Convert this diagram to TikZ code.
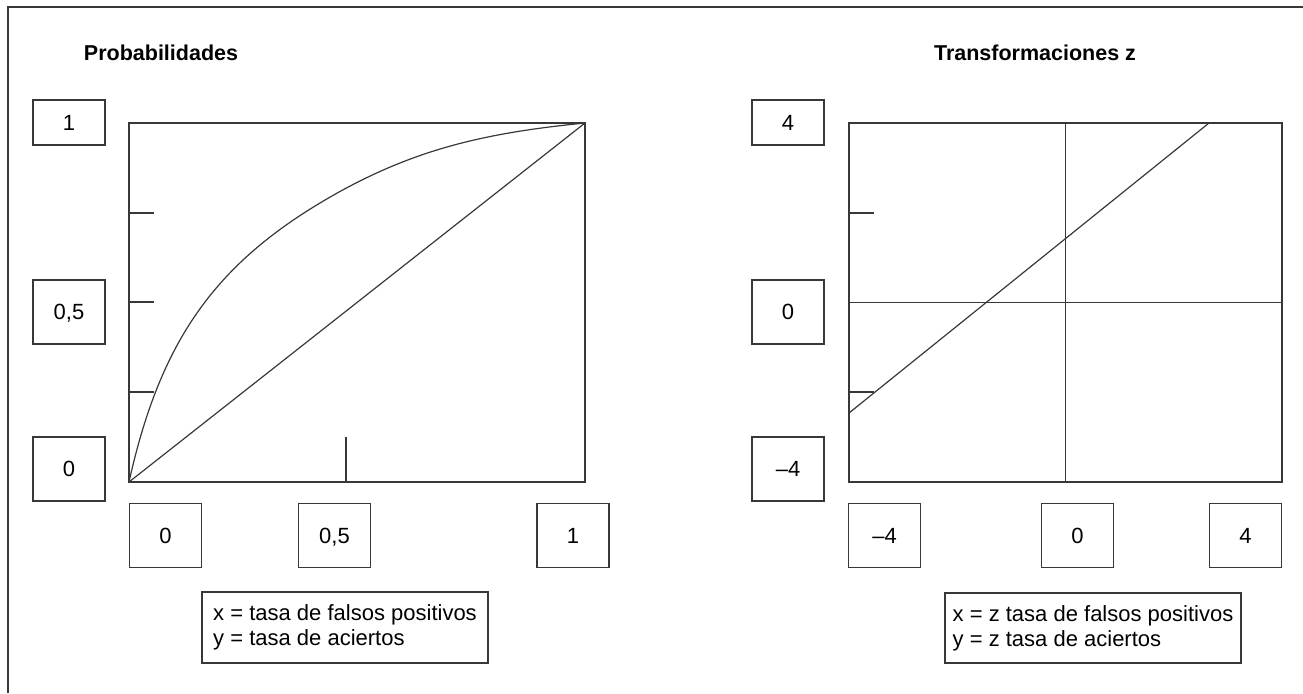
\documentclass[tikz,border=0pt]{standalone}
\usepackage{fontspec}
\setmainfont{Liberation Sans}
\begin{document}
\begin{tikzpicture}[x=1pt,y=-1pt,
  ln/.style={draw=black!78,line width=1.2pt},
  lbl/.style={ln,font=\fontsize{22}{25}\selectfont,inner sep=0pt,minimum width=72pt,text height=15.8pt,text depth=0pt},
  sbox/.style={lbl,minimum height=64pt},
  tbox/.style={lbl,minimum height=45pt},
  legend/.style={ln,font=\fontsize{22}{25}\selectfont,align=left,inner sep=0pt},
  ttl/.style={font=\fontsize{21.5}{25}\selectfont\bfseries,inner sep=0pt}]
\useasboundingbox (0,0) rectangle (1303,693);
% outer partial frame
\coordinate (fL) at (8,693);
\coordinate (fC) at (8,7);
\coordinate (fR) at (1303,7);
\draw[ln] (fL) -- (fC) -- (fR);
% titles
\node[ttl] (t1) at (161,53) {Probabilidades};
\node[ttl] (t2) at (1035,53) {Transformaciones z};
% ---------- left plot ----------
\coordinate (la) at (129,482);
\coordinate (lb) at (585,123);
\coordinate (lm) at (320,203);
\draw[ln] (la) rectangle (lb);
\draw[ln] (la) -- (lb);
\draw[ln] (la) .. controls (159,347) and (210,269) .. (lm)
               .. controls (410,149) and (485,133) .. (lb);
\foreach \yy in {213,302,392} \draw[ln] (129,\yy) -- (154,\yy);
\draw[ln] (346,437) -- (346,482);
\node[tbox] (l1) at (69,122.5) {1};
\node[sbox] (l05) at (69,312) {0,5};
\node[sbox] (l0) at (69,469) {0};
\node[sbox] (b0) at (165.5,535.5) {0};
\node[sbox] (b05) at (334.5,535.5) {0,5};
\node[sbox] (b1) at (573,535.5) {1};
\node[legend,minimum width=286pt,minimum height=71pt] (lg1) at (345,627.5) {x = tasa de falsos positivos\\y = tasa de aciertos};
% ---------- right plot ----------
\coordinate (ra) at (849,482);
\coordinate (rb) at (1282,123);
\draw[ln] (ra) rectangle (rb);
\coordinate (rv1) at (1065.5,123);
\coordinate (rv2) at (1065.5,482);
\coordinate (rh1) at (849,302.5);
\coordinate (rh2) at (1282,302.5);
\draw[ln] (rv1) -- (rv2);
\draw[ln] (rh1) -- (rh2);
\coordinate (rd1) at (849,413);
\coordinate (rd2) at (1209,123);
\draw[ln] (rd1) -- (rd2);
\foreach \yy in {213,302.5,392} \draw[ln] (849,\yy) -- (874,\yy);
\node[tbox] (r4) at (788,122.5) {4};
\node[sbox] (r0) at (788,312) {0};
\node[sbox] (rm4) at (788,469) {–4};
\node[sbox] (c4m) at (884.5,535.5) {–4};
\node[sbox] (c0) at (1077.5,535.5) {0};
\node[sbox] (c4) at (1245.5,535.5) {4};
\node[legend,minimum width=296pt,minimum height=70pt] (lg2) at (1093,628) {x = z tasa de falsos positivos\\y = z tasa de aciertos};
\end{tikzpicture}
\end{document}
